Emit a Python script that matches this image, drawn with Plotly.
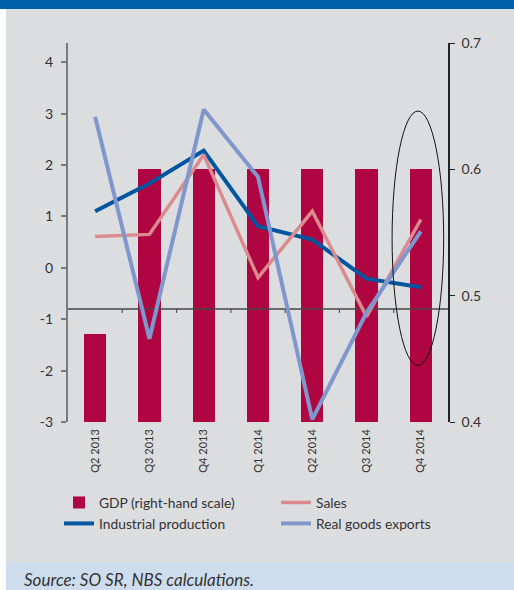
import plotly.graph_objects as go

# Quarterly data
quarters = ["Q2 2013", "Q3 2013", "Q4 2013", "Q1 2014", "Q2 2014", "Q3 2014", "Q4 2014"]
gdp = [0.47, 0.60, 0.60, 0.60, 0.60, 0.60, 0.60]            # right-hand scale
industrial = [1.10, 1.64, 2.28, 0.81, 0.55, -0.21, -0.38]
sales = [0.61, 0.65, 2.20, -0.19, 1.10, -0.95, 0.94]
exports = [2.94, -1.38, 3.08, 1.77, -2.95, -0.87, 0.71]

left_ticks = [-3, -2, -1, 0, 1, 2, 3, 4]
right_ticks = [0.4, 0.5, 0.6, 0.7]
baseline = -0.8

W, H = 514, 590
ML, MR, MT, MB = 68, 66, 43, 168
PW, PH = W - ML - MR, H - MT - MB

FONT = "Lato, 'Open Sans', Arial, sans-serif"
TXT = "#333333"


def px(x):
    return (x - ML) / PW


def py(y):
    return (H - MB - y) / PH


xs = list(range(len(quarters)))
fig = go.Figure()

fig.add_trace(go.Bar(
    x=xs, y=gdp, name="GDP (right-hand scale)", marker_color="#AF0540",
    marker_line_width=0, width=0.41, yaxis="y", legendrank=1,
))

# horizontal axis line crossing the left scale, under the series lines
fig.add_trace(go.Scatter(
    x=[xs[0] - 0.5, xs[-1] + 0.5], y=[baseline, baseline], mode="lines",
    line=dict(color="rgba(70,70,70,0.75)", width=2), yaxis="y2",
    showlegend=False, hoverinfo="skip",
))

fig.add_trace(go.Scatter(
    x=xs, y=industrial, name="Industrial production", mode="lines",
    line=dict(color="#0055A0", width=4), yaxis="y2", legendrank=3,
))
fig.add_trace(go.Scatter(
    x=xs, y=sales, name="Sales", mode="lines",
    line=dict(color="#DB8A8E", width=3.5), yaxis="y2", legendrank=2,
))
fig.add_trace(go.Scatter(
    x=xs, y=exports, name="Real goods exports", mode="lines",
    line=dict(color="#7F97CC", width=4), yaxis="y2", legendrank=4,
))

shapes = [
    # page background bands
    dict(type="rect", xref="paper", yref="paper", x0=px(6), x1=px(W + 5),
         y0=py(562), y1=py(9), fillcolor="#DCDDDF", line_width=0, layer="below"),
    dict(type="rect", xref="paper", yref="paper", x0=px(-5), x1=px(W + 5),
         y0=py(9), y1=py(-5), fillcolor="#0060A9", line_width=0, layer="below"),
    dict(type="rect", xref="paper", yref="paper", x0=px(6), x1=px(W + 5),
         y0=py(H + 5), y1=py(562), fillcolor="#CEDDEE", line_width=0, layer="below"),
    # highlight around the latest quarter
    dict(type="circle", xref="x", yref="y2", x0=5.47, x1=6.42, y0=-1.9, y1=3.05,
         line=dict(color="#111111", width=1), layer="above"),
]
# small tick marks between quarters on the horizontal axis line
for i in xs[:-1]:
    shapes.append(dict(type="line", xref="x", yref="y2", ysizemode="pixel",
                       yanchor=baseline, x0=i + 0.5, x1=i + 0.5, y0=0, y1=-4,
                       line=dict(color="#555555", width=1.2), layer="above"))

fig.update_layout(
    width=W, height=H,
    margin=dict(l=ML, r=MR, t=MT, b=MB, pad=0),
    paper_bgcolor="white", plot_bgcolor="rgba(0,0,0,0)",
    font=dict(family=FONT, color=TXT),
    bargap=0, hovermode=False,
    shapes=shapes,
    xaxis=dict(
        range=[-0.5, len(quarters) - 0.5], tickvals=xs, ticktext=quarters,
        tickangle=-90, showgrid=False, zeroline=False, showline=False,
        ticks="", tickfont=dict(size=11, color=TXT), ticklabelstandoff=4,
    ),
    yaxis=dict(
        side="right", range=[0.4, 0.7], tickvals=right_ticks,
        ticktext=[f"{v:.1f}" for v in right_ticks],
        showgrid=False, zeroline=False, showline=True, linecolor="#222222",
        linewidth=1.5, ticks="outside", ticklen=5, tickwidth=1.2,
        tickcolor="#222222", tickfont=dict(size=14, color=TXT), ticklabelstandoff=4,
    ),
    yaxis2=dict(
        overlaying="y", side="left", range=[-3, 4.374], tickvals=left_ticks,
        ticktext=[str(v) for v in left_ticks],
        showgrid=False, zeroline=False, showline=True, linecolor="#7A7A7A",
        linewidth=2, ticks="outside", ticklen=5, tickwidth=1.5,
        tickcolor="#7A7A7A", tickfont=dict(size=14, color=TXT), ticklabelstandoff=5,
    ),
    legend=dict(
        orientation="h", x=px(59), xanchor="left", y=py(487), yanchor="top",
        bgcolor="rgba(0,0,0,0)", font=dict(size=13.8, color=TXT),
        entrywidth=172, entrywidthmode="pixels", traceorder="normal",
    ),
    annotations=[dict(
        text="Source: SO SR, NBS calculations.", xref="paper", yref="paper",
        x=px(22), y=py(579), xanchor="left", yanchor="middle", showarrow=False,
        font=dict(size=17, color=TXT, family=FONT, style="italic"),
    )],
)

fig.write_html("out.html")
